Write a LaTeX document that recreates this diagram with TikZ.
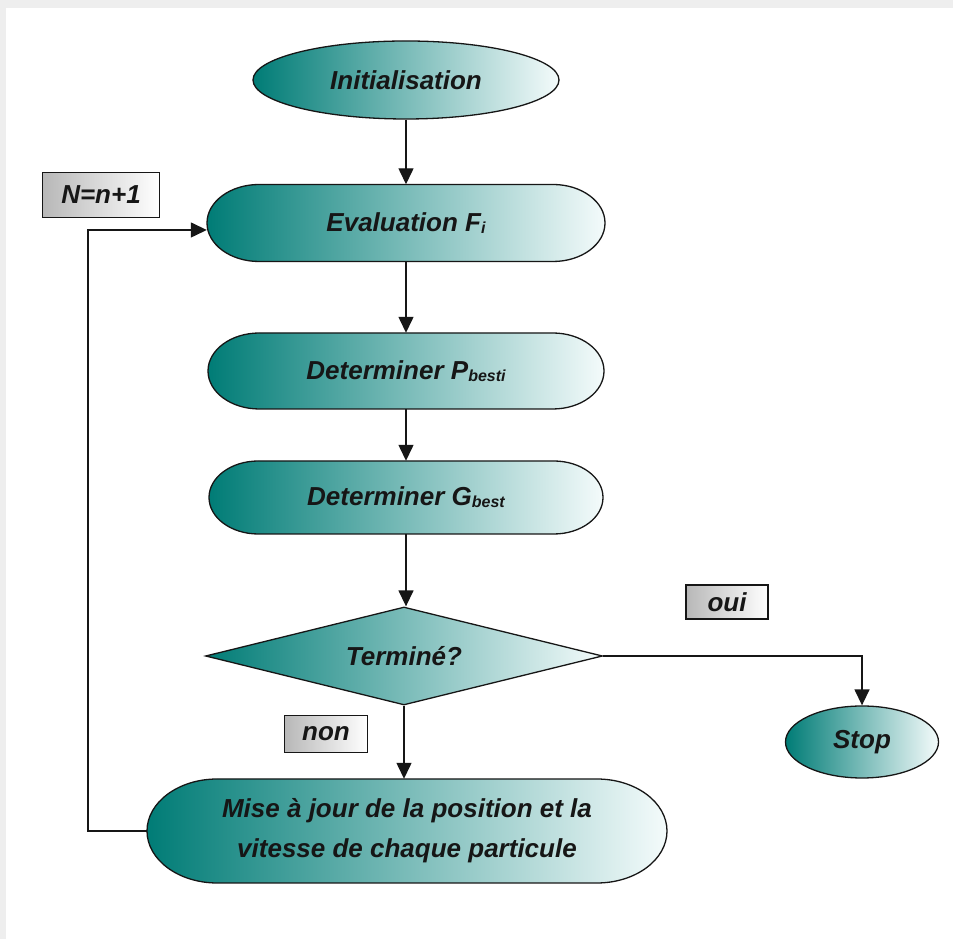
\documentclass[tikz,border=0pt]{standalone}
\usepackage{fontspec}
\setmainfont{Liberation Sans}
\usetikzlibrary{shapes.geometric,arrows.meta,calc}

\definecolor{tealL}{RGB}{0,124,118}
\definecolor{tealR}{RGB}{244,251,251}
\definecolor{ink}{RGB}{22,22,22}
\definecolor{frame}{RGB}{238,238,238}

% small lowered index text, as in F_i or P_best
\newcommand{\lowidx}[1]{\raisebox{-2pt}{\fontsize{16}{16}\selectfont #1}}

% rounded "pill" step: name, x, y, half width, half height, text
\newcommand{\pill}[6]{%
  \path[pillfill]
    ({#2-#4+1.35*#5}, {#3+#5}) -- ({#2+#4-1.35*#5}, {#3+#5})
    arc[start angle=90, end angle=-90, x radius={1.35*#5}, y radius=#5]
    -- ({#2-#4+1.35*#5}, {#3-#5})
    arc[start angle=270, end angle=90, x radius={1.35*#5}, y radius=#5]
    -- cycle;
  \node[steptext, minimum width={2*#4}, minimum height={2*#5}] (#1) at (#2,#3) {#6};
}

\tikzset{
  x=1pt, y=1pt,
  txt/.style={font=\fontsize{26}{40}\selectfont\bfseries\itshape, text=ink},
  pillfill/.style={draw=ink, line width=1.3pt, left color=tealL, right color=tealR},
  steptext/.style={txt, inner sep=0pt, align=center},
  tealshape/.style={txt, draw=ink, line width=1.3pt, left color=tealL, right color=tealR, inner sep=0pt},
  tag/.style={txt, draw=ink, line width=1.1pt, left color=black!28, right color=white, inner sep=0pt},
  arr/.style={draw=ink, line width=1.4pt, -{Triangle[width=15pt,length=16pt]}},
}

\begin{document}
\begin{tikzpicture}
  % page with its light frame along the top and left edges
  \fill[frame] (0,0) rectangle (953,939);
  \fill[white] (6,0) rectangle (953,931);
  \useasboundingbox (0,0) rectangle (953,939);

  % steps of the algorithm
  \node[tealshape, ellipse, minimum width=306pt, minimum height=78pt] (init) at (406,859) {Initialisation};
  \pill{eval}{406}{716}{199}{38.5}{Evaluation F\lowidx{i}}
  \pill{pbest}{406}{568}{198}{38}{Determiner P\lowidx{besti}}
  \pill{gbest}{406}{441.5}{197}{36.5}{Determiner G\lowidx{best}}
  \node[tealshape, diamond, aspect=4, minimum width=397pt, minimum height=98pt] (decide) at (404,283) {Terminé?};
  \node[tealshape, ellipse, minimum width=153pt, minimum height=72pt] (stop) at (862,197) {Stop};
  \pill{mise}{407}{108}{260}{52}{Mise à jour de la position et la\\vitesse de chaque particule}

  % branch labels
  \node[tag, minimum width=117pt, minimum height=45pt] (nlabel) at (101,744) {N=n+1};
  \node[tag, minimum width=82pt, minimum height=34pt] (oui) at (727,337) {oui};
  \node[tag, minimum width=83pt, minimum height=37pt] (non) at (326,205) {non};

  % main flow
  \draw[arr] (init) -- (eval);
  \draw[arr] (eval) -- (pbest);
  \draw[arr] (pbest) -- (gbest);
  \draw[arr] (gbest.south) -- (gbest.south |- decide.north);
  \draw[arr] (decide.south) -- (decide.south |- mise.north);
  \draw[arr] (decide.east) -| (stop.north);

  % iteration loop back to the evaluation step
  \coordinate (loopx) at (88,0);
  \coordinate (evalin) at ($(eval.west)+(0,-7)$);
  \draw[arr] (mise.west) -- (mise.west -| loopx) -- (loopx |- evalin) -- (evalin);
\end{tikzpicture}
\end{document}
